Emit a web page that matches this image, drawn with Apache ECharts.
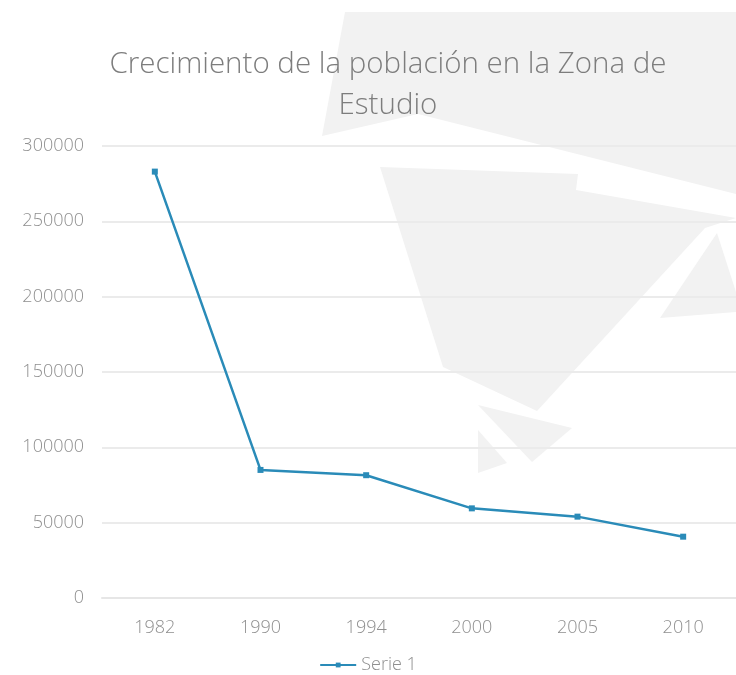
<!DOCTYPE html>
<html>
<head>
<meta charset="utf-8">
<script src="https://cdn.jsdelivr.net/npm/echarts@6/dist/echarts.min.js"></script>
<style>html,body{margin:0;padding:0;background:#fff;}#c{width:736px;height:675px;}</style>
</head>
<body>
<div id="c"></div>
<script>
var titleText = 'Crecimiento de la población en la Zona de\nEstudio';
var categories = ['1982', '1990', '1994', '2000', '2005', '2010'];
var serie1 = [283000, 85000, 81500, 59500, 54000, 40700];
var seriesName = 'Serie 1';

var bg = '#f2f2f2';
function poly(pts){ return {type:'polygon', z:-10, silent:true, shape:{points:pts}, style:{fill:bg}}; }

var chart = echarts.init(document.getElementById('c'), null, {renderer:'canvas'});
chart.setOption({
  backgroundColor: '#ffffff',
  animation: false,
  graphic: [
    poly([[345,12],[736,12],[736,194],[418,114],[322,136]]),
    poly([[380,167],[578,174],[576,190],[736,218],[705,228],[537,411],[443,367]]),
    poly([[717,233],[736,292],[736,312],[660,318]]),
    poly([[478,405],[572,428],[532,462]]),
    poly([[478,430],[507,463],[478,473]])
  ],
  title: {
    text: titleText,
    left: 383,
    textAlign: 'center',
    top: 39,
    textStyle: {
      fontFamily: 'Open Sans',
      fontWeight: 300,
      fontSize: 29.5,
      lineHeight: 41,
      color: '#7d7d7d'
    }
  },
  legend: {
    bottom: -4,
    left: 'center',
    itemWidth: 36,
    itemHeight: 6,
    itemGap: 4,
    textStyle: {fontFamily: 'Open Sans', fontWeight: 300, fontSize: 18, color: '#8f8f8f'},
    data: [seriesName]
  },
  grid: {left: 102, right: -2, top: 146, bottom: 77, containLabel: false},
  xAxis: {
    type: 'category',
    data: categories,
    boundaryGap: true,
    axisLine: {show: true, lineStyle: {color: '#e6e6e6', width: 2}},
    axisTick: {show: false},
    axisLabel: {margin: 21, fontFamily: 'Open Sans', fontWeight: 300, fontSize: 18, color: '#8f8f8f'}
  },
  yAxis: {
    type: 'value',
    min: 0,
    max: 300000,
    interval: 50000,
    axisLine: {show: false},
    axisTick: {show: false},
    axisLabel: {margin: 18, fontFamily: 'Open Sans', fontWeight: 300, fontSize: 18, color: '#8f8f8f',
      formatter: function (v) { return String(v); }},
    splitLine: {lineStyle: {color: '#ebebeb', width: 2}}
  },
  series: [{
    name: seriesName,
    type: 'line',
    data: serie1,
    symbol: 'rect',
    symbolSize: 6,
    showSymbol: true,
    lineStyle: {color: '#2a8bb8', width: 2.5},
    itemStyle: {color: '#2a8bb8'}
  }]
});
</script>
</body>
</html>
